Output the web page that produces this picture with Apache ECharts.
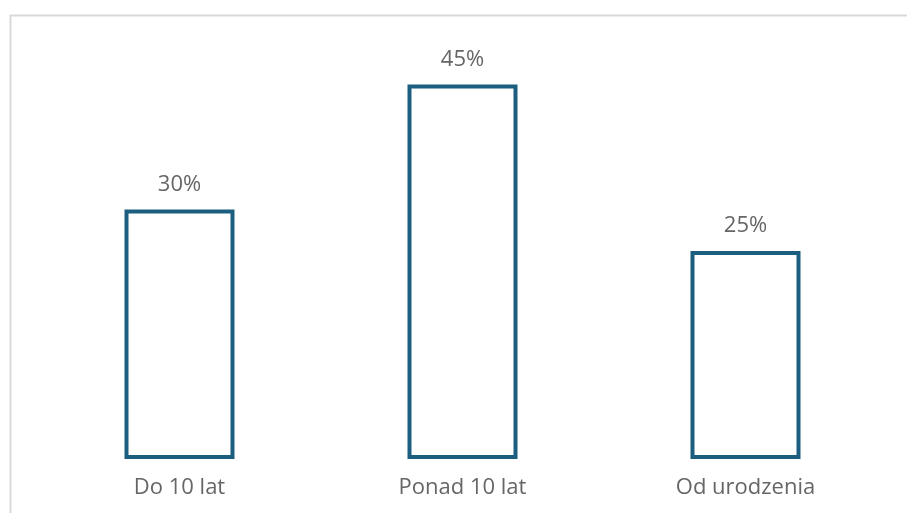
<!DOCTYPE html>
<html><head><meta charset="utf-8">
<script src="https://cdn.jsdelivr.net/npm/echarts@6/dist/echarts.min.js"></script>
<style>html,body{margin:0;padding:0;background:#fff}#c{width:907px;height:513px}</style>
</head><body><div id="c"></div>
<script>
const categories = ['Do 10 lat', 'Ponad 10 lat', 'Od urodzenia'];
const values = [30, 45, 25];

const chart = echarts.init(document.getElementById('c'));
chart.setOption({
  animation: false,
  backgroundColor: '#fff',
  graphic: [{
    type: 'rect', left: 8, top: 13,
    shape: { width: 1000, height: 600 },
    style: { fill: 'none', stroke: '#d9d9d9', lineWidth: 2 },
    silent: true, z: -1
  }],
  grid: { left: 38, right: 20, top: 43, bottom: 54 },
  xAxis: {
    type: 'category', data: categories,
    axisLine: { show: false }, axisTick: { show: false },
    axisLabel: { color: '#666666', fontSize: 22, fontFamily: 'Open Sans', margin: 18 }
  },
  yAxis: { type: 'value', min: 0, max: 50, show: false, splitLine: { show: false } },
  series: [{
    type: 'bar', data: values, barWidth: 110,
    itemStyle: { color: '#ffffff', borderColor: '#1c5e80', borderWidth: 4 },
    label: { show: true, position: 'top', distance: 14, formatter: '{c}%',
      color: '#666666', fontSize: 22, fontFamily: 'Open Sans' }
  }]
});
</script></body></html>
